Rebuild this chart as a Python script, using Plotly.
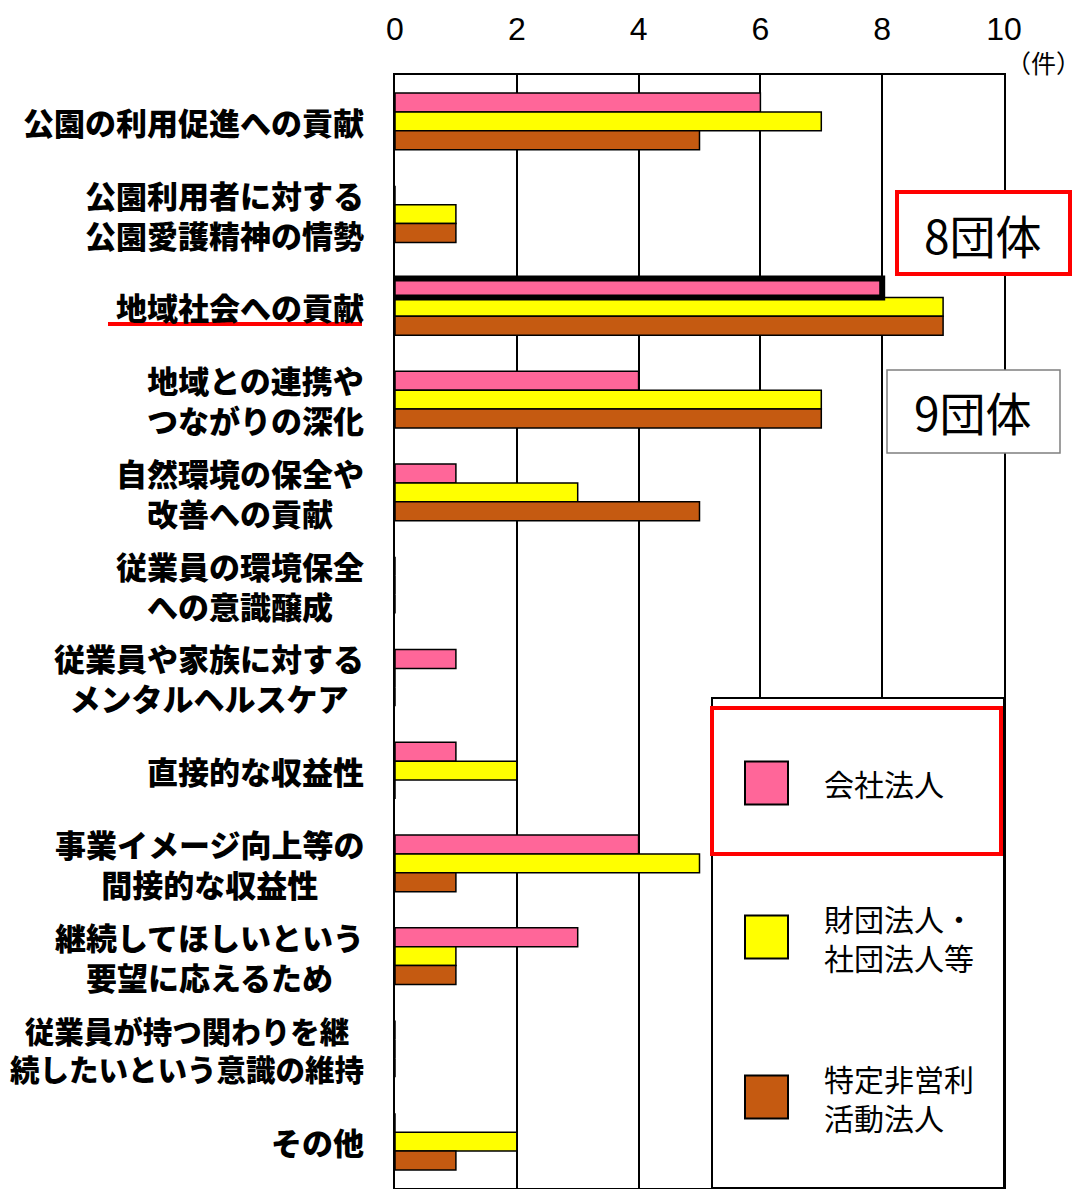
import plotly.graph_objects as go

categories = [
    "公園の利用促進への貢献",
    "公園利用者に対する公園愛護精神の情勢",
    "地域社会への貢献",
    "地域との連携やつながりの深化",
    "自然環境の保全や改善への貢献",
    "従業員の環境保全への意識醸成",
    "従業員や家族に対するメンタルヘルスケア",
    "直接的な収益性",
    "事業イメージ向上等の間接的な収益性",
    "継続してほしいという要望に応えるため",
    "従業員が持つ関わりを継続したいという意識の維持",
    "その他",
]
labels = [
    "公園の利用促進への貢献",
    "公園利用者に対する<br>公園愛護精神の情勢",
    "地域社会への貢献",
    "地域との連携や<br>つながりの深化",
    "自然環境の保全や<br>改善への貢献",
    "従業員の環境保全<br>への意識醸成",
    "従業員や家族に対する<br>メンタルヘルスケア",
    "直接的な収益性",
    "事業イメージ向上等の<br>間接的な収益性",
    "継続してほしいという<br>要望に応えるため",
    "従業員が持つ関わりを継<br>続したいという意識の維持",
    "その他",
]
series_names = ["会社法人", "財団法人・<br>社団法人等", "特定非営利<br>活動法人"]
company = [6, 0, 8, 4, 1, 0, 1, 1, 4, 3, 0, 0]
foundation = [7, 1, 9, 7, 3, 0, 0, 2, 5, 1, 0, 2]
npo = [5, 1, 9, 7, 5, 0, 0, 0, 1, 1, 0, 1]
colors = ["#FF6699", "#FFFF00", "#C55A11"]
x_ticks = [0, 2, 4, 6, 8, 10]

# page body has an 8px margin, so the figure is sized/offset accordingly
OFF = 8
W, H = 1085 - OFF, 1189 - OFF
PLOT_L, PLOT_R, PLOT_T, PLOT_B = 395, 1004, 75, 1188  # in reference pixels
L = PLOT_L - OFF
R = W - (PLOT_R - OFF)
T = PLOT_T - OFF
B = H - (PLOT_B - OFF)
PW, PH = PLOT_R - PLOT_L, PLOT_B - PLOT_T

def px(xp):
    return (xp - PLOT_L) / PW

def py(yp):
    return (PLOT_B - yp) / PH

JP = "Noto Sans CJK JP"
NUM = "Liberation Sans Narrow, Liberation Sans, Arial, sans-serif"
BARGAP = 0.386

fig = go.Figure()
for name, vals, c in zip(series_names, [company, foundation, npo], colors):
    fig.add_trace(go.Bar(
        y=categories, x=vals, orientation="h", name=name,
        marker=dict(color=c, line=dict(color="black", width=1.5)),
        showlegend=False,
    ))

fig.update_layout(
    width=W, height=H,
    margin=dict(l=L, r=R, t=T, b=B, autoexpand=False),
    plot_bgcolor="white", paper_bgcolor="white",
    barmode="group", bargap=BARGAP, bargroupgap=0,
    font=dict(family=JP, color="black"),
)
fig.update_xaxes(
    side="top", range=[0, 10], tickvals=x_ticks, ticktext=[str(v) for v in x_ticks],
    showgrid=True, gridcolor="black", gridwidth=1.5,
    showline=True, linecolor="black", linewidth=1.5, mirror=True,
    tickfont=dict(size=32, family=NUM, color="black"), ticks="", ticklabelstandoff=20,
    zeroline=False, automargin=False,
)
fig.update_yaxes(
    autorange="reversed", showticklabels=False, showline=True, linecolor="black",
    linewidth=1.5, mirror=True, ticks="", showgrid=False, automargin=False,
)

# category labels (centered multi-line blocks, right-aligned to axis)
for cat, lab in zip(categories, labels):
    longest = max(len(s) for s in lab.split("<br>"))
    size = 31 if longest <= 11 else 29.5
    fig.add_annotation(
        x=0, xref="paper", y=cat, yref="y", text=lab,
        xanchor="right", yanchor="middle", align="center", xshift=-29,
        showarrow=False, font=dict(size=size, family=JP, color="black", weight=900),
    )

# unit label
fig.add_annotation(x=px(1083), y=py(62), xref="paper", yref="paper", text="（件）",
                   xanchor="right", yanchor="middle",
                   showarrow=False, font=dict(size=25, family=JP, color="black"))

# red underline under 地域社会への貢献
fig.add_shape(type="line", xref="paper", yref="paper", x0=px(108), x1=px(362),
              y0=py(324), y1=py(324), line=dict(color="#FF0000", width=4))

# thick box around company bar of 地域社会への貢献
idx = categories.index("地域社会への貢献")
bw = (1 - BARGAP) / 3
fig.add_shape(type="rect", xref="x", yref="y", x0=-0.08, x1=company[idx],
              y0=idx - 1.5 * bw, y1=idx - 0.5 * bw,
              line=dict(color="black", width=6), layer="above")

# 8団体 / 9団体 boxes
fig.add_shape(type="rect", xref="paper", yref="paper", x0=px(897), x1=px(1070),
              y0=py(274), y1=py(192), line=dict(color="#FF0000", width=4), fillcolor="white", layer="above")
fig.add_annotation(x=px(983), y=py(234), xref="paper", yref="paper", text="8団体",
                   xanchor="center", yanchor="middle",
                   showarrow=False, font=dict(size=46, family=JP, color="black"))
fig.add_shape(type="rect", xref="paper", yref="paper", x0=px(887), x1=px(1060),
              y0=py(453), y1=py(370), line=dict(color="#7F7F7F", width=1.5), fillcolor="white", layer="above")
fig.add_annotation(x=px(973), y=py(411), xref="paper", yref="paper", text="9団体",
                   xanchor="center", yanchor="middle",
                   showarrow=False, font=dict(size=46, family=JP, color="black"))

# legend box
fig.add_shape(type="rect", xref="paper", yref="paper", x0=px(712), x1=px(1004),
              y0=py(1188), y1=py(698), line=dict(color="black", width=2), fillcolor="white", layer="above")
fig.add_shape(type="rect", xref="paper", yref="paper", x0=px(712), x1=px(1001),
              y0=py(854), y1=py(708), line=dict(color="#FF0000", width=4), layer="above")
leg_y = [783, 937, 1097]
for name, c, yc in zip(series_names, colors, leg_y):
    fig.add_shape(type="rect", xref="paper", yref="paper", x0=px(745), x1=px(788),
                  y0=py(yc + 21.5), y1=py(yc - 21.5), line=dict(color="black", width=2),
                  fillcolor=c, layer="above")
    fig.add_annotation(x=px(822), y=py(yc), xref="paper", yref="paper", text=name,
                       xanchor="left", yanchor="middle", align="left", showarrow=False,
                       font=dict(size=30, family=JP, color="black"))

fig.write_html("out.html")
